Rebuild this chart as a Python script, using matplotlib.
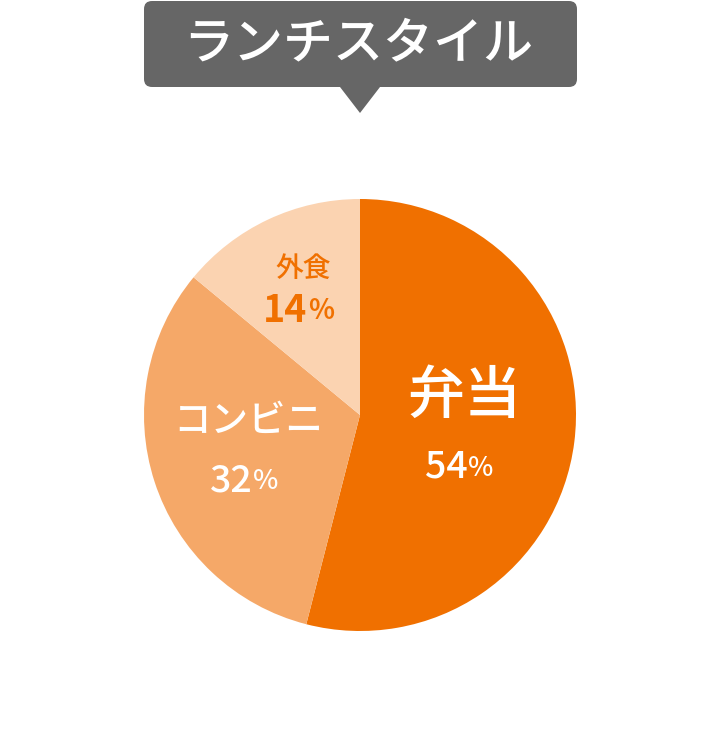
import matplotlib
matplotlib.use('Agg')
import matplotlib.pyplot as plt
from matplotlib.patches import FancyBboxPatch, Polygon

plt.rcParams['font.family'] = ['Noto Sans CJK JP', 'DejaVu Sans']

title = 'ランチスタイル'
labels = ['弁当', 'コンビニ', '外食']
values = [54, 32, 14]
colors = ['#F07000', '#F5A868', '#FBD3B1']

W, H = 720, 755
fig = plt.figure(figsize=(W / 100, H / 100), dpi=100)
ax = fig.add_axes([0, 0, 1, 1])

# pie: start at top, clockwise
cx, cy, r = 360, H - 415, 216
ax.pie(values, colors=colors, startangle=90, counterclock=False,
       center=(cx, cy), radius=r, frame=True,
       wedgeprops=dict(linewidth=0))
ax.set_xlim(0, W)
ax.set_ylim(0, H)
ax.set_aspect('equal')
ax.axis('off')

# title speech bubble
box = FancyBboxPatch((144, H - 87), 433, 86,
                     boxstyle='round,pad=0,rounding_size=8',
                     fc='#666666', ec='none')
ax.add_patch(box)
ax.add_patch(Polygon([(340, H - 87), (380, H - 87), (360, H - 113)],
                     closed=True, fc='#666666', ec='none'))
ax.text(358, H - 44, title, ha='center', va='center', color='white',
        fontsize=36, fontweight='medium')


def pct(x, y, num, size, color, weight='medium'):
    # number, then a smaller % sign
    ax.text(x + size * 0.2, y, str(num), ha='right', va='center',
            color=color, fontsize=size, fontweight=weight)
    ax.text(x + size * 0.24, y - size * 0.05, '%', ha='left', va='center',
            color=color, fontsize=size * 0.72, fontweight=weight)


# labels
ax.text(464, H - 397, labels[0], ha='center', va='center', color='white',
        fontsize=41, fontweight='medium')
pct(462, H - 467, values[0], 27, 'white')

ax.text(248, H - 421, labels[1], ha='center', va='center', color='white',
        fontsize=27, fontweight='medium')
pct(247, H - 480, values[1], 27, 'white')

ax.text(303, H - 268, labels[2], ha='center', va='center', color='#F07000',
        fontsize=20, fontweight='medium')
pct(302, H - 310, values[2], 27, '#F07000', weight='bold')

fig.savefig('out.png', dpi=100, facecolor='white')
